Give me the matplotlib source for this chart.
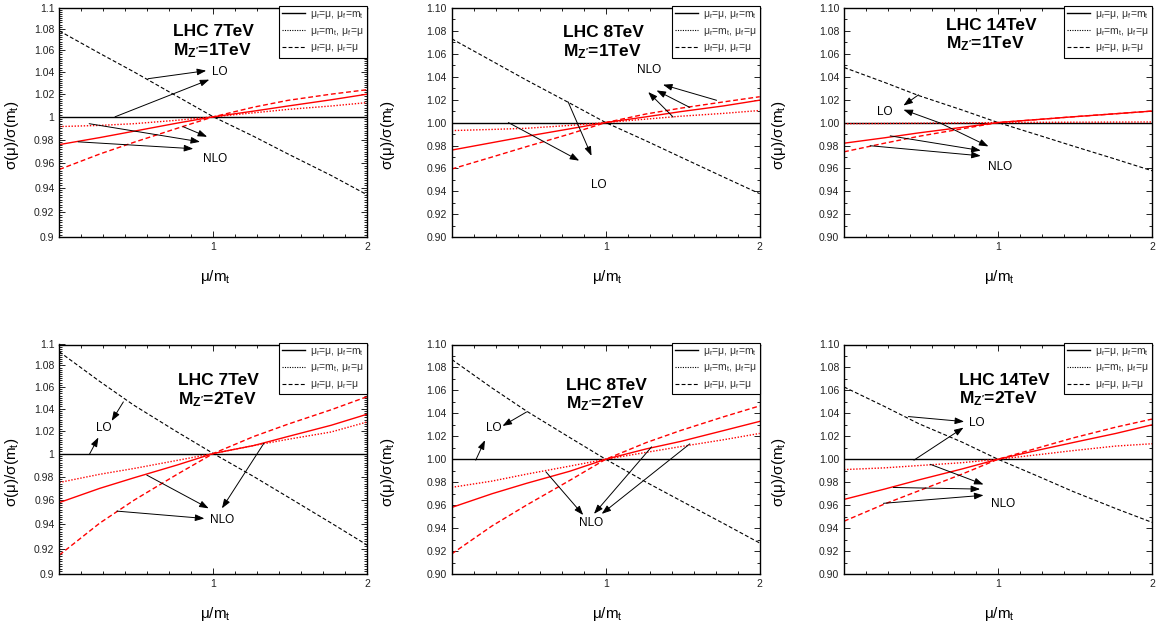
import numpy as np
import matplotlib
matplotlib.use('Agg')
import matplotlib.pyplot as plt
import matplotlib.ticker as ticker
from matplotlib.lines import Line2D

plt.rcParams['font.family'] = ['Liberation Sans', 'DejaVu Sans']
plt.rcParams['mathtext.fontset'] = 'custom'
plt.rcParams['mathtext.rm'] = 'Liberation Sans'
plt.rcParams['mathtext.it'] = 'Liberation Sans:italic'
plt.rcParams['mathtext.bf'] = 'Liberation Sans:bold'
plt.rcParams['mathtext.default'] = 'regular'

# scale points mu/m_t
mu = [0.5, 0.6, 0.7, 0.85, 1.0, 1.2, 1.4, 1.7, 2.0]
lo_r = [1.0, 1.0, 1.0, 1.0, 1.0, 1.0, 1.0, 1.0, 1.0]

# LHC 7TeV, MZ'=1TeV
lo_p1 = [1.078, 1.057, 1.040, 1.018, 1.0, 0.983, 0.968, 0.950, 0.934]
nlo_r_p1 = [0.976, 0.982, 0.9875, 0.9945, 1.0, 1.005, 1.0095, 1.015, 1.020]
nlo_f_p1 = [0.9915, 0.9925, 0.994, 0.997, 1.0, 1.0035, 1.0065, 1.0095, 1.0125]
nlo_rf_p1 = [0.955, 0.968, 0.978, 0.990, 1.0, 1.0085, 1.0145, 1.020, 1.024]
# LHC 8TeV, MZ'=1TeV
lo_p2 = [1.073, 1.0535, 1.037, 1.017, 1.0, 0.984, 0.970, 0.9525, 0.938]
nlo_r_p2 = [0.976, 0.9825, 0.988, 0.9945, 1.0, 1.005, 1.0095, 1.0145, 1.0195]
nlo_f_p2 = [0.993, 0.994, 0.995, 0.9975, 1.0, 1.003, 1.0055, 1.008, 1.0105]
nlo_rf_p2 = [0.9595, 0.970, 0.979, 0.990, 1.0, 1.0075, 1.0125, 1.018, 1.0225]
# LHC 14TeV, MZ'=1TeV
lo_p3 = [1.048, 1.035, 1.0235, 1.011, 1.0, 0.989, 0.9796, 0.968, 0.958]
nlo_r_p3 = [0.982, 0.9867, 0.991, 0.9958, 1.0, 1.0027, 1.005, 1.0077, 1.010]
nlo_f_p3 = [0.999, 0.9992, 0.9994, 0.9997, 1.0, 1.0002, 1.0003, 1.0004, 1.0005]
nlo_rf_p3 = [0.9745, 0.982, 0.988, 0.9945, 1.0, 1.0027, 1.005, 1.0077, 1.010]
# LHC 7TeV, MZ'=2TeV
lo_p4 = [1.093, 1.065, 1.043, 1.019, 1.0, 0.980, 0.9626, 0.941, 0.923]
nlo_r_p4 = [0.958, 0.970, 0.979, 0.990, 1.0, 1.007, 1.015, 1.025, 1.035]
nlo_f_p4 = [0.975, 0.982, 0.987, 0.994, 1.0, 1.007, 1.0125, 1.019, 1.028]
nlo_rf_p4 = [0.915, 0.941, 0.960, 0.982, 1.0, 1.015, 1.026, 1.039, 1.051]
# LHC 8TeV, MZ'=2TeV
lo_p5 = [1.087, 1.062, 1.042, 1.019, 1.0, 0.980, 0.964, 0.944, 0.927]
nlo_r_p5 = [0.958, 0.970, 0.979, 0.9895, 1.0, 1.009, 1.0155, 1.025, 1.033]
nlo_f_p5 = [0.9755, 0.981, 0.987, 0.994, 1.0, 1.006, 1.011, 1.017, 1.0225]
nlo_rf_p5 = [0.9175, 0.942, 0.960, 0.9815, 1.0, 1.0145, 1.025, 1.037, 1.0465]
# LHC 14TeV, MZ'=2TeV
lo_p6 = [1.063, 1.046, 1.031, 1.015, 1.0, 0.985, 0.972, 0.957, 0.945]
nlo_r_p6 = [0.965, 0.974, 0.982, 0.9915, 1.0, 1.008, 1.0145, 1.0225, 1.030]
nlo_f_p6 = [0.991, 0.9925, 0.9945, 0.997, 1.0, 1.004, 1.0075, 1.0115, 1.0135]
nlo_rf_p6 = [0.946, 0.961, 0.9725, 0.987, 1.0, 1.010, 1.0185, 1.028, 1.035]

energies = ['LHC 7TeV', 'LHC 8TeV', 'LHC 14TeV', 'LHC 7TeV', 'LHC 8TeV', 'LHC 14TeV']
masses = ["M$_{Z'}$=1TeV", "M$_{Z'}$=1TeV", "M$_{Z'}$=1TeV",
          "M$_{Z'}$=2TeV", "M$_{Z'}$=2TeV", "M$_{Z'}$=2TeV"]

y_ticks = [0.90, 0.92, 0.94, 0.96, 0.98, 1.00, 1.02, 1.04, 1.06, 1.08, 1.10]
y_labels_log = ['0.9', '0.92', '0.94', '0.96', '0.98', '1', '1.02', '1.04', '1.06', '1.08', '1.1']
y_labels_lin = ['0.90', '0.92', '0.94', '0.96', '0.98', '1.00', '1.02', '1.04', '1.06', '1.08', '1.10']
x_ticks = [1, 2]
x_labels = ['1', '2']

leg_labels = ['μ$_r$=μ, μ$_f$=m$_t$', 'μ$_r$=m$_t$, μ$_f$=μ', 'μ$_f$=μ, μ$_r$=μ']

# annotation labels and arrows (axes fraction)
notes = [
    [('LO', 0.522, 0.721), ('NLO', 0.506, 0.342)],
    [('NLO', 0.641, 0.731), ('LO', 0.476, 0.228)],
    [('LO', 0.133, 0.546), ('NLO', 0.507, 0.306)],
    [('LO', 0.145, 0.634), ('NLO', 0.528, 0.235)],
    [('LO', 0.135, 0.634), ('NLO', 0.454, 0.223)],
    [('LO', 0.431, 0.659), ('NLO', 0.515, 0.303)],
]
arrows = [
    [((0.288, 0.691), (0.477, 0.726)), ((0.181, 0.525), (0.487, 0.687)),
     ((0.402, 0.482), (0.480, 0.438)), ((0.097, 0.495), (0.457, 0.416)),
     ((0.061, 0.416), (0.435, 0.386))],
    [((0.860, 0.597), (0.686, 0.665)), ((0.773, 0.566), (0.665, 0.640)),
     ((0.719, 0.524), (0.638, 0.633)), ((0.184, 0.500), (0.414, 0.334)),
     ((0.378, 0.590), (0.454, 0.355))],
    [((0.242, 0.621), (0.193, 0.574)), ((0.312, 0.498), (0.193, 0.556)),
     ((0.312, 0.498), (0.469, 0.396)), ((0.150, 0.442), (0.444, 0.378)),
     ((0.085, 0.399), (0.444, 0.355))],
    [((0.208, 0.750), (0.170, 0.667)), ((0.098, 0.522), (0.127, 0.595)),
     ((0.284, 0.431), (0.485, 0.286)), ((0.664, 0.569), (0.528, 0.286)),
     ((0.187, 0.274), (0.471, 0.242))],
    [((0.243, 0.706), (0.165, 0.645)), ((0.078, 0.496), (0.108, 0.583)),
     ((0.306, 0.445), (0.427, 0.257)), ((0.649, 0.554), (0.462, 0.262)),
     ((0.773, 0.567), (0.487, 0.262))],
    [((0.209, 0.686), (0.390, 0.664)), ((0.227, 0.496), (0.388, 0.638)),
     ((0.280, 0.478), (0.453, 0.390)), ((0.160, 0.377), (0.442, 0.370)),
     ((0.128, 0.308), (0.453, 0.343))],
]
title_pos = [(0.37, 0.879, 0.795), (0.36, 0.873, 0.79), (0.33, 0.905, 0.822),
             (0.384, 0.823, 0.738), (0.37, 0.801, 0.72), (0.373, 0.823, 0.745)]

panels = [
    (lo_p1, nlo_r_p1, nlo_f_p1, nlo_rf_p1),
    (lo_p2, nlo_r_p2, nlo_f_p2, nlo_rf_p2),
    (lo_p3, nlo_r_p3, nlo_f_p3, nlo_rf_p3),
    (lo_p4, nlo_r_p4, nlo_f_p4, nlo_rf_p4),
    (lo_p5, nlo_r_p5, nlo_f_p5, nlo_rf_p5),
    (lo_p6, nlo_r_p6, nlo_f_p6, nlo_rf_p6),
]

W, H = 1161, 624
fig = plt.figure(figsize=(W / 100, H / 100), dpi=100)
lefts = [59.3, 451.7, 844.0]
bottoms = [237.3, 574.0]
ylab_x = [-0.153, -0.208, -0.211]

DASH = (3.5, 2.0)
DOT = (1.0, 1.2)

for i, (lo, nr, nf, nrf) in enumerate(panels):
    row, col = divmod(i, 3)
    ax = fig.add_axes([lefts[col] / W, 1 - bottoms[row] / H, 308 / W, 229.5 / H])
    logy = (col == 0)

    ax.plot(mu, lo_r, color='k', lw=1.0)
    ax.plot(mu, lo, color='k', lw=0.8, dashes=DASH)
    ax.plot(mu, nr, color='red', lw=1.0)
    ax.plot(mu, nf, color='red', lw=1.0, dashes=DOT)
    ax.plot(mu, nrf, color='red', lw=1.0, dashes=DASH)

    ax.set_xscale('log', base=2)
    ax.set_xlim(0.5, 2)
    ax.set_xticks(x_ticks, x_labels)
    ax.xaxis.set_minor_locator(ticker.FixedLocator(2.0 ** (np.arange(-6, 7) / 7.0)))
    ax.xaxis.set_minor_formatter(ticker.NullFormatter())

    if logy:
        ax.set_yscale('log')
        ax.yaxis.set_major_locator(ticker.FixedLocator(y_ticks))
        ax.yaxis.set_major_formatter(ticker.FixedFormatter(y_labels_log))
        ax.yaxis.set_minor_locator(ticker.FixedLocator(np.arange(0.9, 1.1001, 0.002)))
    else:
        ax.yaxis.set_major_locator(ticker.FixedLocator(y_ticks))
        ax.yaxis.set_major_formatter(ticker.FixedFormatter(y_labels_lin))
        ax.yaxis.set_minor_locator(ticker.FixedLocator(np.arange(0.91, 1.1, 0.02)))
    ax.yaxis.set_minor_formatter(ticker.NullFormatter())
    ax.set_ylim(0.9, 1.1)

    ax.tick_params(which='both', direction='in', top=True, right=True,
                   labelsize=7.5, width=0.7, colors='#222')
    ax.tick_params(which='major', length=4)
    ax.tick_params(which='minor', length=2)
    for s in ax.spines.values():
        s.set_linewidth(1.0)

    ax.set_xlabel('μ/m$_t$', fontsize=11, va='center')
    ax.xaxis.set_label_coords(0.506, -0.173)
    ax.set_ylabel('σ(μ)/σ(m$_t$)', fontsize=11, va='center')
    ax.yaxis.set_label_coords(ylab_x[col], 0.445)

    tx, ty1, ty2 = title_pos[i]
    ax.text(tx, ty1, energies[i], transform=ax.transAxes, fontsize=12.5,
            fontweight='bold', va='baseline')
    ax.text(tx, ty2, masses[i], transform=ax.transAxes, fontsize=12.5,
            fontweight='bold', va='baseline')

    for lab, nx, ny in notes[i]:
        ax.text(nx, ny, lab, transform=ax.transAxes, fontsize=8.5,
                ha='center', va='center')
    for tail, head in arrows[i]:
        ax.annotate('', xy=head, xytext=tail, xycoords='axes fraction',
                    textcoords='axes fraction',
                    arrowprops=dict(arrowstyle='-|>,head_length=0.55,head_width=0.2',
                                    color='k', lw=0.7, shrinkA=0, shrinkB=0))

    handles = [Line2D([], [], color='k', lw=1.0),
               Line2D([], [], color='k', lw=0.8, dashes=DOT),
               Line2D([], [], color='k', lw=0.8, dashes=DASH)]
    leg = ax.legend(handles, leg_labels, loc='upper right', bbox_to_anchor=(1.0, 1.008),
                    borderaxespad=0, fontsize=7.5, handlelength=2.2, handletextpad=0.5,
                    borderpad=0.3, labelspacing=0.45, fancybox=False,
                    edgecolor='k', framealpha=1)
    leg.get_frame().set_linewidth(0.8)
    for t in leg.get_texts():
        t.set_color('#333')

fig.savefig('out.png', dpi=100)
